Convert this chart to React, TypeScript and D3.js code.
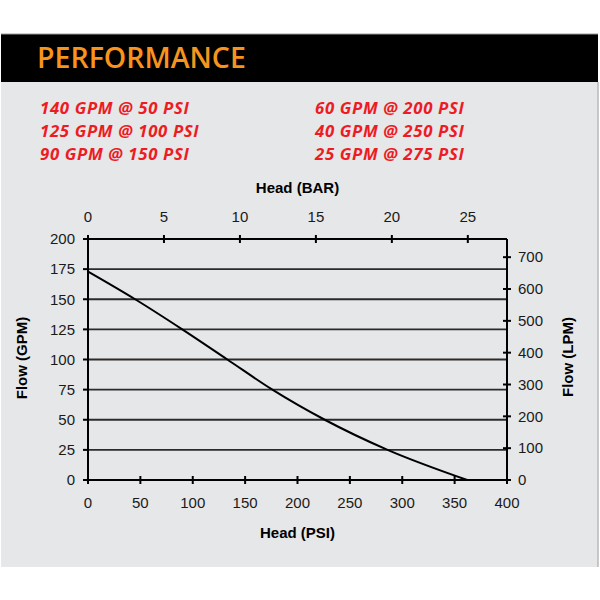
import React from "react";
import * as d3 from "d3";

const title = "PERFORMANCE";
const specsLeft = ["140 GPM @ 50 PSI", "125 GPM @ 100 PSI", "90 GPM @ 150 PSI"];
const specsRight = ["60 GPM @ 200 PSI", "40 GPM @ 250 PSI", "25 GPM @ 275 PSI"];

const headPsi = [0, 45, 90, 133, 176, 226, 286, 362];
const flowGpm = [173, 150, 125, 100, 75, 50, 25, 0];

const psiTicks = [0, 50, 100, 150, 200, 250, 300, 350, 400];
const barTicks = [0, 5, 10, 15, 20, 25];
const gpmTicks = [0, 25, 50, 75, 100, 125, 150, 175, 200];
const lpmTicks = [0, 100, 200, 300, 400, 500, 600, 700];

const PSI_PER_BAR = 14.5038;
const LPM_PER_GPM = 3.78541;

export default function App() {
  const left = 88, right = 507, top = 239, bottom = 480;
  const x = d3.scaleLinear().domain([0, 400]).range([left, right]);
  const xBar = d3.scaleLinear().domain([0, 400 / PSI_PER_BAR]).range([left, right]);
  const y = d3.scaleLinear().domain([0, 200]).range([bottom, top]);
  const yL = d3.scaleLinear().domain([0, 200 * LPM_PER_GPM]).range([bottom, top]);

  const pts = headPsi.map((p, i) => [p, flowGpm[i]] as [number, number]);
  const line = d3
    .line<[number, number]>()
    .x((d) => x(d[0]))
    .y((d) => y(d[1]))
    .curve(d3.curveMonotoneX);

  const axisFont = "'Liberation Sans', Arial, sans-serif";
  const tickColor = "#1a1a1a";
  const midX = (left + right) / 2;
  const specSize = 16.8;
  const specGap = 23;

  return (
    <svg
      width={600}
      height={600}
      style={{ position: "absolute", left: 0, top: 0 }}
      xmlns="http://www.w3.org/2000/svg"
    >
      <rect x={0} y={0} width={600} height={600} fill="#ffffff" />
      <rect x={1} y={82} width={597} height={485} fill="#e6e7e8" />
      <line x1={598} y1={82} x2={598} y2={567} stroke="#b8b8b8" strokeWidth={1.5} />
      <rect x={1} y={34} width={597} height={48} fill="#000000" />
      <line x1={1} y1={34} x2={598} y2={34} stroke="#9a9a9a" strokeWidth={1} />
      <text
        x={37}
        y={67.5}
        fill="#f7941d"
        fontFamily="'Open Sans', sans-serif"
        fontWeight={600}
        fontSize={28.5}
      >
        {title}
      </text>

      {specsLeft.map((s, i) => (
        <text
          key={"l" + i}
          x={40}
          y={113.5 + i * specGap}
          fill="#ed1c24"
          fontFamily="'Open Sans', sans-serif"
          fontWeight={700}
          fontStyle="italic"
          fontSize={specSize}
          letterSpacing={0.65}
        >
          {s}
        </text>
      ))}
      {specsRight.map((s, i) => (
        <text
          key={"r" + i}
          x={315}
          y={113.5 + i * specGap}
          fill="#ed1c24"
          fontFamily="'Open Sans', sans-serif"
          fontWeight={700}
          fontStyle="italic"
          fontSize={specSize}
          letterSpacing={0.65}
        >
          {s}
        </text>
      ))}

      {/* gridlines */}
      {gpmTicks
        .filter((t) => t !== 0 && t !== 200)
        .map((t) => (
          <line key={"g" + t} x1={left} x2={right} y1={y(t)} y2={y(t)} stroke="#2b2b2b" strokeWidth={1.8} />
        ))}

      {/* frame */}
      <line x1={left} x2={right} y1={top} y2={top} stroke="#000" strokeWidth={2} />
      <line x1={left} x2={right} y1={bottom} y2={bottom} stroke="#000" strokeWidth={2} />
      <line x1={left} x2={left} y1={top} y2={bottom} stroke="#000" strokeWidth={2} />
      <line x1={right} x2={right} y1={top} y2={bottom} stroke="#000" strokeWidth={2} />

      {/* left ticks */}
      {gpmTicks.map((t) => (
        <g key={"yl" + t}>
          <line x1={left - 5} x2={left} y1={y(t)} y2={y(t)} stroke="#000" strokeWidth={2} />
          <text
            x={75}
            y={y(t)}
            dy="0.35em"
            textAnchor="end"
            fontFamily={axisFont}
            fontSize={15}
            fill={tickColor}
          >
            {t}
          </text>
        </g>
      ))}

      {/* right ticks */}
      {lpmTicks.map((t) => (
        <g key={"yr" + t}>
          <line x1={right - 4} x2={right + 4} y1={yL(t)} y2={yL(t)} stroke="#000" strokeWidth={2} />
          <text
            x={518}
            y={yL(t)}
            dy="0.35em"
            textAnchor="start"
            fontFamily={axisFont}
            fontSize={15}
            fill={tickColor}
          >
            {t}
          </text>
        </g>
      ))}

      {/* top ticks */}
      {barTicks.map((t) => (
        <g key={"xt" + t}>
          <line x1={xBar(t)} x2={xBar(t)} y1={top - 4} y2={top + 4} stroke="#000" strokeWidth={2} />
          <text
            x={xBar(t)}
            y={222}
            textAnchor="middle"
            fontFamily={axisFont}
            fontSize={15}
            fill={tickColor}
          >
            {t}
          </text>
        </g>
      ))}

      {/* bottom ticks */}
      {psiTicks.map((t) => (
        <g key={"xb" + t}>
          <line x1={x(t)} x2={x(t)} y1={bottom - 4} y2={bottom + 4} stroke="#000" strokeWidth={2} />
          <text
            x={x(t)}
            y={508}
            textAnchor="middle"
            fontFamily={axisFont}
            fontSize={15}
            fill={tickColor}
          >
            {t}
          </text>
        </g>
      ))}

      {/* curve */}
      <path d={line(pts) || ""} fill="none" stroke="#000" strokeWidth={2} />

      {/* axis titles */}
      <text x={midX} y={193} textAnchor="middle" fontFamily={axisFont} fontWeight={700} fontSize={15} fill="#000">
        Head (BAR)
      </text>
      <text x={midX} y={538} textAnchor="middle" fontFamily={axisFont} fontWeight={700} fontSize={15} fill="#000">
        Head (PSI)
      </text>
      <text
        transform={`translate(22,358) rotate(-90)`}
        textAnchor="middle"
        dy="0.35em"
        fontFamily={axisFont}
        fontWeight={700}
        fontSize={15}
        fill="#000"
      >
        Flow (GPM)
      </text>
      <text
        transform={`translate(568,357) rotate(-90)`}
        textAnchor="middle"
        dy="0.35em"
        fontFamily={axisFont}
        fontWeight={700}
        fontSize={15}
        fill="#000"
      >
        Flow (LPM)
      </text>
    </svg>
  );
}
